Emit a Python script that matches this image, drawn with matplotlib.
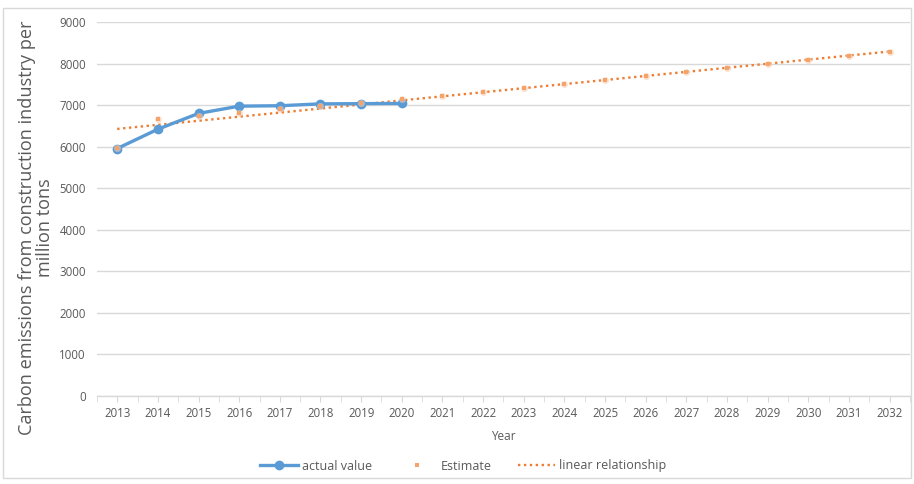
import numpy as np
import matplotlib
matplotlib.use("Agg")
import matplotlib.pyplot as plt
from matplotlib.patches import Rectangle

# data
years = ['2013', '2014', '2015', '2016', '2017', '2018', '2019', '2020', '2021', '2022',
         '2023', '2024', '2025', '2026', '2027', '2028', '2029', '2030', '2031', '2032']
actual = [5955, 6420, 6800, 6975, 6985, 7030, 7035, 7040]
estimate = [5960, 6655, 6745, 6815, 6905, 6985, 7055, 7145, 7225, 7315,
            7410, 7505, 7595, 7690, 7790, 7885, 7980, 8075, 8175, 8270]

blue = '#5B9BD5'
orange = '#ED7D31'
grid_c = '#D9D9D9'
text_c = '#595959'

plt.rcParams['font.family'] = ['Open Sans', 'DejaVu Sans']

fig = plt.figure(figsize=(9.14, 4.84), dpi=100)
ax = fig.add_axes([0.106, 0.182, 0.8896, 0.7725])

x = np.arange(len(years))
xa = x[:len(actual)]

# linear trendline of the estimate series
k, b = np.polyfit(x, estimate, 1)
ax.plot(x, k * x + b, color=orange, lw=1.7, ls=(0, (1, 1.5)), label='linear relationship', zorder=2)

ax.plot(xa, actual, color=blue, lw=2.4, marker='o', ms=6, label='actual value', zorder=3)

ax.plot(x, estimate, ls='none', marker='o', ms=5, color='#F8CBAD', alpha=0.6, mew=0, zorder=4)
ax.plot(x, estimate, ls='none', marker='s', ms=2.2, color='#F4A46A', mew=0, label='Estimate', zorder=5)

ax.set_xlim(-0.5, len(years) - 0.5)
ax.set_ylim(0, 9000)
ax.set_yticks(np.arange(0, 9001, 1000))
ax.set_xticks(x)
ax.set_xticklabels(years)
ax.set_xticks(np.arange(-0.5, len(years), 1), minor=True)

ax.grid(axis='y', color=grid_c, lw=1)
ax.set_axisbelow(True)
for s in ['left', 'right', 'top']:
    ax.spines[s].set_visible(False)
ax.spines['bottom'].set_color(grid_c)
ax.spines['bottom'].set_linewidth(1)

ax.tick_params(axis='y', length=0, labelsize=8.3, labelcolor=text_c, pad=8)
ax.tick_params(axis='x', which='both', length=4, color=grid_c, labelsize=8.3, labelcolor=text_c, pad=4)

ax.set_xlabel('Year', fontsize=8.5, color=text_c, labelpad=7)

fig.text(0.039, 1 - 228 / 484, 'Carbon emissions from construction industry per\nmillion tons',
         rotation=90, ha='center', va='center', multialignment='center',
         fontsize=13.1, color=text_c, linespacing=1.0)

h, l = ax.get_legend_handles_labels()
order = [l.index('actual value'), l.index('Estimate'), l.index('linear relationship')]
fig.legend([h[i] for i in order], [l[i] for i in order], loc='center',
           bbox_to_anchor=(0.507, 1 - 466 / 484), ncol=3, frameon=False,
           fontsize=9, labelcolor=text_c, handlelength=3.0, handletextpad=0.35,
           columnspacing=2.1)

fig.patches.append(Rectangle((0.003, 0.012), 0.994, 0.972, transform=fig.transFigure,
                             fill=False, edgecolor=grid_c, lw=1))

fig.savefig('out.png', dpi=100)
